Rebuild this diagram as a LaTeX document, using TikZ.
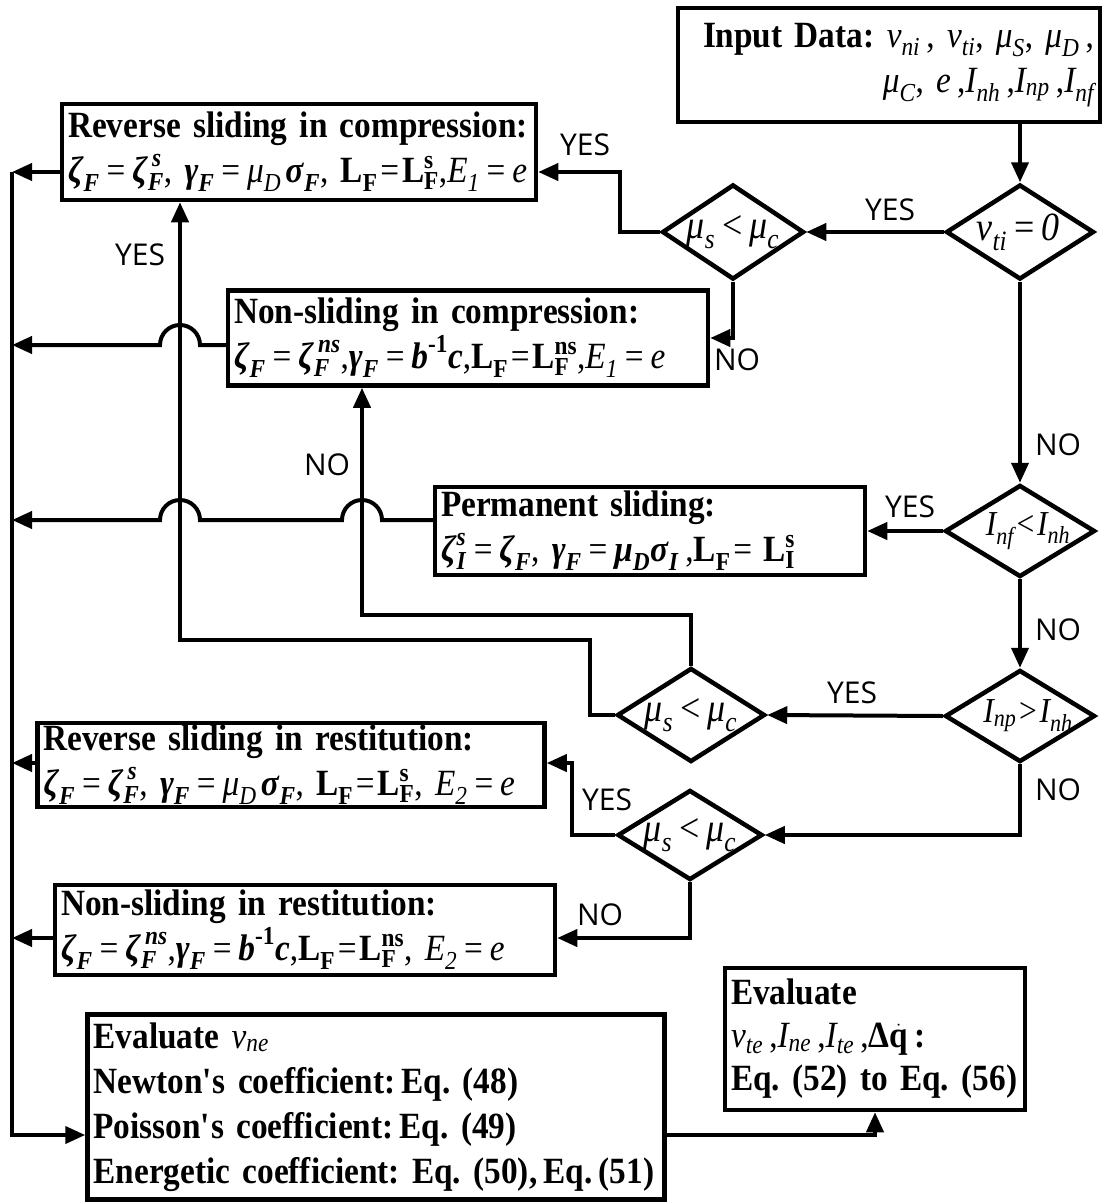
\documentclass[tikz,border=0pt]{standalone}
\usepackage{amsmath}
\usepackage{fontspec}
\setmainfont{Liberation Serif}[FakeStretch=0.9]
\newfontfamily\labfont{Open Sans}
\usetikzlibrary{shapes.geometric,arrows.meta}
\newcommand{\bi}[1]{\textbf{\textit{#1}}}
\newcommand{\ti}[1]{\textit{#1}}
\newcommand{\teq}{\mathrel{\text{=}}}
\newcommand{\tlt}{\mathrel{\text{<}}}
\newcommand{\tgt}{\mathrel{\text{>}}}
\frenchspacing
\begin{document}
\begin{tikzpicture}[x=1pt,y=-1pt,
 box/.style={draw,line width=4.5pt,inner xsep=6pt,inner ysep=2pt,fill=white,align=left,font=\fontsize{37}{45}\selectfont},
 dia/.style={draw,diamond,line width=4.5pt,inner sep=0pt,fill=white},
 dtext/.style={inner sep=0pt,font=\fontsize{40}{42}\selectfont},
 conn/.style={line width=4pt},
 arr/.style={conn,-{Triangle[length=20pt,width=17pt]}},
 lab/.style={font=\labfont\fontsize{30}{34}\selectfont}]
\useasboundingbox (0,0) rectangle (1102,1203);
\fill[white] (0,0) rectangle (1102,1203);

% boxes
\node[box,text width=410pt,minimum height=114pt,align=right,font=\fontsize{37}{45}\selectfont] (inp) at (889,65)
 {\textbf{Input Data:} $\ti{v}_{\ti{ni}}$\,, $\ti{v}_{\ti{ti}}$, $\ti{μ}_{\ti{S}}$, $\ti{μ}_{\ti{D}}$\,,\\
  $\ti{μ}_{\ti{C}}$, $\ti{e}$\,,$\ti{I}_{\ti{nh}}$\,,$\ti{I}_{\ti{np}}$\,,$\ti{I}_{\ti{nf}}$};
\node[box,text width=462pt,minimum height=96pt] (rsc) at (299,152)
 {\textbf{Reverse sliding in compression:}\\
  $\bi{ζ}_{\bi{F}}\teq\bi{ζ}_{\bi{F}}^{\,\bi{s}}$, $\bi{γ}_{\bi{F}}\teq\ti{μ}_{\ti{D}}\,\bi{σ}_{\bi{F}}$, $\textbf{L}_{\textbf{F}}\!\teq\!\textbf{L}_{\textbf{F}}^{\textbf{s}}$,$\ti{E}_{\ti{1}} \teq \ti{e}$};
\node[box,text width=468pt,minimum height=95pt] (nsc) at (468,338)
 {\textbf{Non-sliding in compression:}\\
  $\bi{ζ}_{\bi{F}}\teq\bi{ζ}_{\bi{F}}^{\,\bi{ns}}$,$\bi{γ}_{\bi{F}}\teq\bi{b}^{\textbf{-1}}\bi{c}$,$\textbf{L}_{\textbf{F}}\!\teq\!\textbf{L}_{\textbf{F}}^{\textbf{ns}}$,$\ti{E}_{\ti{1}} \teq \ti{e}$};
\node[box,text width=418pt,minimum height=88pt] (ps) at (650,531)
 {\textbf{Permanent sliding:}\\
  $\bi{ζ}_{\bi{I}}^{\bi{s}}\teq\bi{ζ}_{\bi{F}}$, $\bi{γ}_{\bi{F}}\teq\bi{μ}_{\bi{D}}\bi{σ}_{\bi{I}}$\,,$\textbf{L}_{\textbf{F}}\!\teq\,\textbf{L}_{\textbf{I}}^{\textbf{s}}$};
\node[box,text width=495pt,minimum height=80pt] (rsr) at (291,765)
 {\textbf{Reverse sliding in restitution:}\\
  $\bi{ζ}_{\bi{F}}\teq\bi{ζ}_{\bi{F}}^{\,\bi{s}}$, $\bi{γ}_{\bi{F}}\teq\ti{μ}_{\ti{D}}\,\bi{σ}_{\bi{F}}$, $\textbf{L}_{\textbf{F}}\!\teq\!\textbf{L}_{\textbf{F}}^{\textbf{s}}$, $\ti{E}_{\ti{2}} \teq \ti{e}$};
\node[box,text width=488pt,minimum height=90pt] (nsr) at (305,930)
 {\textbf{Non-sliding in restitution:}\\
  $\bi{ζ}_{\bi{F}}\teq\bi{ζ}_{\bi{F}}^{\,\bi{ns}}$,$\bi{γ}_{\bi{F}}\teq\bi{b}^{\textbf{-1}}\bi{c}$,$\textbf{L}_{\textbf{F}}\!\teq\!\textbf{L}_{\textbf{F}}^{\textbf{ns}}$, $\ti{E}_{\ti{2}} \teq \ti{e}$};
\node[box,text width=565pt,minimum height=185pt] (ev1) at (376,1107)
 {\textbf{Evaluate} $\ti{v}_{\ti{ne}}$\\
  \textbf{Newton\textquotesingle s coefficient:\,Eq. (48)}\\
  \textbf{Poisson\textquotesingle s coefficient:\,Eq. (49)}\\
  \textbf{Energetic coefficient: Eq. (50),\,Eq.\,(51)}};
\node[box,text width=288pt,minimum height=142pt,font=\fontsize{37}{43}\selectfont] (ev2) at (875,1039)
 {\textbf{Evaluate}\\
  $\ti{v}_{\ti{te}}$\,,$\ti{I}_{\ti{ne}}$\,,$\ti{I}_{\ti{te}}$\,,\textbf{Δ}$\dot{\textbf{q}}$\,\textbf{:}\\
  \textbf{Eq. (52) to Eq. (56)}};

% decisions (fixed-size diamonds, text on top)
\node[dia,minimum width=148pt,minimum height=95pt] (d1) at (1020,232) {};
\node[dia,minimum width=142pt,minimum height=95pt] (d2) at (733,232) {};
\node[dia,minimum width=150pt,minimum height=92pt] (d3) at (1020,531) {};
\node[dia,minimum width=150pt,minimum height=92pt] (d4) at (1020,716) {};
\node[dia,minimum width=148pt,minimum height=94pt] (d5) at (691,715) {};
\node[dia,minimum width=145pt,minimum height=90pt] (d6) at (690,835) {};
\node[dtext,font=\fontsize{40}{42}\selectfont] (t1) at ([xshift=-2pt]d1.center) {$\ti{v}_{\ti{ti}}\teq\ti{0}$};
\node[dtext] (t2) at (d2.center) {$\ti{μ}_{\ti{s}}\tlt\ti{μ}_{\ti{c}}$};
\node[dtext,font=\fontsize{35}{37}\selectfont] (t3) at ([xshift=8pt]d3.center) {$\ti{I}_{\ti{nf}}\!\tlt\!\ti{I}_{\ti{nh}}$};
\node[dtext,font=\fontsize{35}{37}\selectfont] (t4) at ([xshift=8pt]d4.center) {$\ti{I}_{\ti{np}}\!\tgt\!\ti{I}_{\ti{nh}}$};
\node[dtext] (t5) at (d5.center) {$\ti{μ}_{\ti{s}}\tlt\ti{μ}_{\ti{c}}$};
\node[dtext] (t6) at (d6.center) {$\ti{μ}_{\ti{s}}\tlt\ti{μ}_{\ti{c}}$};

% connectors
\draw[arr] (d1.north |- inp.south) -- (d1.north);
\draw[arr] (d1.west) -- (d2.east);
\draw[arr] (d2.west) -- (620,232) |- (rsc.east |- 0,172);
\draw[arr] (d2.south) |- (nsc.east |- 0,338);
\draw[arr] (d1.south) -- (d3.north);
\draw[arr] (d3.west) -- (ps.east);
\draw[arr] (d3.south) -- (d4.north);
\draw[arr] (d4.west) -- (d5.east);
\draw[arr] (d5.north) -- (d5.north |- 0,615) -| (nsc.south -| 362,0);
\draw[arr] (d5.west) -- (590,715) |- (180,640) -- (rsc.south -| 180,0);
\draw[arr] (d4.south) |- (d6.east);
\draw[arr] (d6.west) -- (572,835) |- (rsr.east |- 0,763);
\draw[arr] (d6.south) |- (nsr.east |- 0,938);

% bus
\coordinate (bt) at (12,172);
\draw[arr] (bt) |- (ev1.west |- 0,1135);
\draw[arr] (rsc.west |- 0,172) -- (bt);
\draw[arr] (nsc.west |- 0,345) -- (200,345) arc[start angle=0,end angle=180,radius=20pt] -- (12,345);
\draw[arr] (ps.west |- 0,520) -- (382,520) arc[start angle=0,end angle=180,radius=20pt] -- (200,520) arc[start angle=0,end angle=180,radius=20pt] -- (12,520);
\draw[arr] (rsr.west |- 0,763) -- (12,763);
\draw[arr] (nsr.west |- 0,938) -- (12,938);
\draw[arr] (ev1.east |- 0,1135) -| (ev2.south);

% labels
\node[lab] (l1) at (585,145) {YES};
\node[lab] (l2) at (890,210) {YES};
\node[lab] (l3) at (737,360) {NO};
\node[lab] (l4) at (1058,445) {NO};
\node[lab] (l5) at (910,507) {YES};
\node[lab] (l6) at (1058,630) {NO};
\node[lab] (l7) at (852,693) {YES};
\node[lab] (l8) at (1058,790) {NO};
\node[lab] (l9) at (607,800) {YES};
\node[lab] (l10) at (600,915) {NO};
\node[lab] (l11) at (140,255) {YES};
\node[lab] (l12) at (327,465) {NO};
\end{tikzpicture}
\end{document}
